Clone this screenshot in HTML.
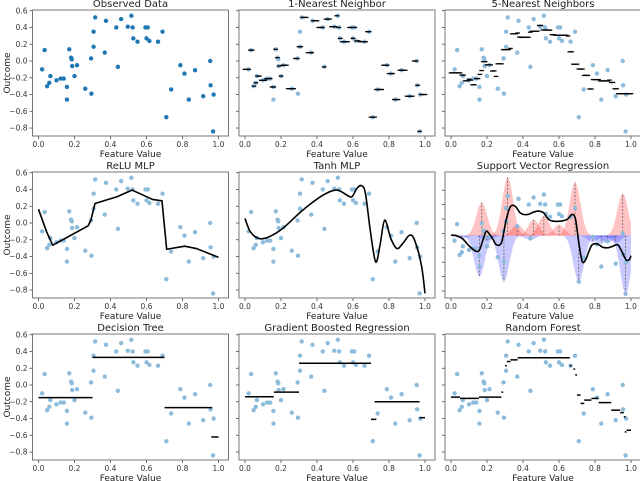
<!DOCTYPE html>
<html><head><meta charset="utf-8"><style>
html,body{margin:0;padding:0;background:#fff}
svg{display:block;font-family:"DejaVu Sans","Liberation Sans",sans-serif}
</style></head><body>
<svg id="c" width="640" height="481" viewBox="0 0 640 481" xmlns="http://www.w3.org/2000/svg"></svg>
<script>
const featureX = [0.02,0.034,0.048,0.06,0.066,0.10,0.123,0.14,0.158,0.158,0.171,0.181,0.185,0.187,0.20,0.214,0.26,0.292,0.294,0.306,0.306,0.315,0.368,0.375,0.432,0.441,0.459,0.496,0.516,0.523,0.527,0.55,0.594,0.60,0.607,0.616,0.664,0.689,0.71,0.737,0.788,0.811,0.835,0.87,0.915,0.954,0.956,0.97,0.973];
const outcomeY = [-0.10,0.13,-0.30,-0.26,-0.18,-0.23,-0.21,-0.21,-0.31,-0.46,0.14,0.04,0.02,-0.06,-0.18,-0.05,-0.33,0.03,-0.39,0.17,0.35,0.52,0.10,0.48,0.40,-0.07,0.50,0.41,0.54,0.40,0.27,0.23,0.40,0.27,0.40,0.24,0.23,0.35,-0.67,-0.34,-0.05,-0.15,-0.46,-0.11,-0.42,0.00,-0.29,-0.84,-0.40];
const xTicks = [0.0,0.2,0.4,0.6,0.8,1.0];
const yTicks = [0.6,0.4,0.2,0.0,-0.2,-0.4,-0.6,-0.8];
const panelTitles = ["Observed Data","1-Nearest Neighbor","5-Nearest Neighbors","ReLU MLP","Tanh MLP","Support Vector Regression","Decision Tree","Gradient Boosted Regression","Random Forest"];
const reluX = [0,0.045,0.079,0.276,0.291,0.314,0.436,0.52,0.633,0.686,0.712,0.812,0.878,1.0];
const reluY = [0.165,-0.105,-0.265,-0.033,0.034,0.233,0.313,0.393,0.281,0.265,-0.313,-0.277,-0.305,-0.41];
const tanhX = [0,0.03,0.077,0.133,0.209,0.321,0.434,0.509,0.566,0.594,0.622,0.647,0.669,0.697,0.726,0.75,0.776,0.81,0.844,0.876,0.914,0.942,0.98,1.0];
const tanhY = [0.054,-0.105,-0.185,-0.165,-0.066,0.153,0.333,0.393,0.333,0.313,0.413,0.445,0.353,-0.105,-0.464,-0.265,0.034,-0.185,-0.305,-0.245,-0.146,-0.205,-0.504,-0.84];
const svrX = [0,0.028,0.065,0.103,0.14,0.159,0.178,0.196,0.215,0.234,0.252,0.28,0.305,0.327,0.346,0.364,0.383,0.402,0.43,0.458,0.486,0.514,0.542,0.57,0.607,0.645,0.673,0.692,0.71,0.729,0.748,0.766,0.785,0.813,0.841,0.869,0.897,0.925,0.944,0.972,0.99,1.0];
const svrY = [-0.025,-0.03,-0.076,-0.18,-0.25,-0.225,-0.086,0.03,-0.016,-0.086,-0.156,-0.13,0.17,0.357,0.39,0.357,0.287,0.264,0.264,0.296,0.31,0.287,0.194,0.17,0.17,0.194,0.264,0.194,-0.13,-0.39,-0.365,-0.25,-0.156,-0.146,-0.19,-0.2,-0.18,-0.156,-0.225,-0.365,-0.365,-0.31];
const svrIntercept = -0.03;
const svX = [0.171,0.315,0.689,0.954,0.368,0.459,0.516,0.60,0.158,0.294,0.71,0.97,0.441,0.788,0.835,0.87,0.915,0.06,0.20];
const svPeak = [0.43,0.78,0.71,0.55,0.12,0.19,0.24,0.12,-0.60,-0.67,-0.67,-0.84,-0.09,-0.12,-0.14,-0.13,-0.13,-0.07,-0.10];
const treeStart = [0,0.30,0.70,0.96];
const treeEnd = [0.30,0.70,0.965,1.0];
const treeVal = [-0.15,0.33,-0.27,-0.62];
const gbrStart = [0,0.16,0.30,0.70,0.72,0.97];
const gbrEnd = [0.16,0.30,0.70,0.73,0.97,1.0];
const gbrVal = [-0.14,-0.085,0.26,-0.41,-0.20,-0.39];
const rfStart = [0,0.05,0.155,0.28,0.30,0.31,0.33,0.37,0.66,0.68,0.69,0.70,0.72,0.74,0.78,0.82,0.89,0.94,0.96,0.965,0.975];
const rfEnd = [0.05,0.155,0.28,0.29,0.31,0.33,0.37,0.66,0.67,0.69,0.70,0.72,0.74,0.78,0.82,0.89,0.94,0.96,0.97,0.975,1.0];
const rfVal = [-0.145,-0.16,-0.145,-0.085,0.23,0.28,0.30,0.325,0.23,0.19,0.12,-0.12,-0.22,-0.18,-0.16,-0.21,-0.30,-0.33,-0.38,-0.56,-0.54];

const NS="http://www.w3.org/2000/svg";
const svg=document.getElementById('c');
const colX0=[38.5,245,451], rowY0=[61,223,385], SX=180, SY=83.8;
function mk(tag,attrs,parent){const e=document.createElementNS(NS,tag);for(const k in attrs)e.setAttribute(k,attrs[k]);(parent||svg).appendChild(e);return e;}
function fmt(v){const s=Math.abs(v).toFixed(1);return (v<-1e-9?"\u2212":"")+s;}
function smooth(pts){let d="M"+pts[0][0]+","+pts[0][1];for(let i=0;i<pts.length-1;i++){const p0=pts[Math.max(0,i-1)],p1=pts[i],p2=pts[i+1],p3=pts[Math.min(pts.length-1,i+2)];const c1x=p1[0]+(p2[0]-p0[0])/6,c1y=p1[1]+(p2[1]-p0[1])/6,c2x=p2[0]-(p3[0]-p1[0])/6,c2y=p2[1]-(p3[1]-p1[1])/6;d+=" C"+c1x+","+c1y+" "+c2x+","+c2y+" "+p2[0]+","+p2[1];}return d;}

for(let i=0;i<9;i++){
  const r=Math.floor(i/3), c=i%3;
  const x0=colX0[c];
  const left=x0-6, top=rowY0[r]-51, w=196, h=126;
  const y0=(i===5)?top+61.4:rowY0[r];
  const sy=(i===5)?72:SY;
  const X=v=>x0+v*SX, Y=v=>y0-v*sy;
  const g=mk('g',{});
  
  
  const t=mk('text',{x:left+w/2,y:top-3,'text-anchor':'middle','font-size':'10',fill:'#222'},g);
  t.textContent=panelTitles[i];
  
  
  xTicks.forEach(v=>{
    mk('line',{x1:X(v),x2:X(v),y1:top+h,y2:top+h+3,stroke:'#444','stroke-width':0.8},g);
    const tl=mk('text',{x:X(v),y:top+h+11,'text-anchor':'middle','font-size':'7.5',fill:'#333'},g);
    tl.textContent=fmt(v);
    
    
  });
  const xl=mk('text',{x:left+w/2,y:top+h+21,'text-anchor':'middle','font-size':'9',fill:'#222'},g);
  xl.textContent='Feature Value';
  
  
  yTicks.forEach(v=>{
    if(Y(v)<top||Y(v)>top+h) return;
    mk('line',{x1:left-3,x2:left,y1:Y(v),y2:Y(v),stroke:'#444','stroke-width':0.8},g);
    if(c===0){
      const yl=mk('text',{x:left-5,y:Y(v)+2.7,'text-anchor':'end','font-size':'7.5',fill:'#333'},g);
      yl.textContent=fmt(v);
      
      
    }
  });
  if(c===0){
    const ot=mk('text',{x:0,y:0,'text-anchor':'middle','font-size':'9',fill:'#222',transform:'translate(10,'+(top+h/2)+') rotate(-90)'},g);
    ot.textContent='Outcome';
    
    
  }
  const clipId='clip'+i;
  const cp=mk('clipPath',{id:clipId},g);
  mk('rect',{x:left,y:top,width:w,height:h},cp);
  const plot=mk('g',{'clip-path':'url(#'+clipId+')'},g);
  
  

  if(i===5){
    const s=0.03;
    svX.forEach((cx,k)=>{
      const hgt=svPeak[k]-svrIntercept;
      let d="M"+X(Math.max(0,cx-4*s))+","+Y(svrIntercept);
      for(let u=Math.max(0,cx-4*s);u<=Math.min(1,cx+4*s)+1e-9;u+=0.002){d+=" L"+X(u)+","+Y(svrIntercept+hgt*Math.exp(-(u-cx)*(u-cx)/(2*s*s)));}
      d+=" L"+X(Math.min(1,cx+4*s))+","+Y(svrIntercept)+" Z";
      const p=mk('path',{d:d,fill:hgt>0?'rgba(255,40,40,0.28)':'rgba(40,40,255,0.25)',stroke:'none'},plot);
      
      
      const dl=mk('line',{x1:X(cx),x2:X(cx),y1:Y(svrIntercept),y2:Y(svPeak[k]),stroke:'#555','stroke-width':0.7,'stroke-dasharray':'2,1.5'},plot);
      
      
    });
  }
  featureX.forEach((fx,k)=>{
    const pt=mk('circle',{cx:X(fx),cy:Y(outcomeY[k]),r:2.2,fill:i===0?'#1f77b4':'#8dbbdc'},plot);
    
    
  });
  if(i===1||i===2){
    const k=i===1?1:5;
    for(let u=0;u<=1.0001;u+=0.01){
      const idx=featureX.map((fx,j)=>j).sort((a,b)=>Math.abs(featureX[a]-u)-Math.abs(featureX[b]-u)).slice(0,k);
      const pred=idx.reduce((s,j)=>s+outcomeY[j],0)/k;
      const m=mk('line',{x1:X(u)-2.3,x2:X(u)+2.3,y1:Y(pred),y2:Y(pred),stroke:'#000','stroke-width':1.3},plot);
      
      
    }
  }
  const curve=(xs,ys,name,sm)=>{
    const pts=xs.map((v,j)=>[X(v),Y(ys[j])]);
    const p=mk('path',{d:sm?smooth(pts):"M"+pts.map(q=>q.join(',')).join(' L'),fill:'none',stroke:'#000','stroke-width':1.6,'stroke-linejoin':'round'},plot);
    
    
  };
  if(i===3) curve(reluX,reluY,'relu-mlp-line',false);
  if(i===4) curve(tanhX,tanhY,'tanh-mlp-line',true);
  if(i===5) curve(svrX,svrY,'svr-line',true);
  const steps=(st,en,vals,name)=>{
    st.forEach((a,j)=>{
      const l=mk('line',{x1:X(a),x2:X(en[j]),y1:Y(vals[j]),y2:Y(vals[j]),stroke:'#000','stroke-width':1.5},plot);
      
      
    });
  };
  if(i===6) steps(treeStart,treeEnd,treeVal,'tree-step');
  if(i===7) steps(gbrStart,gbrEnd,gbrVal,'gbr-step');
  if(i===8) steps(rfStart,rfEnd,rfVal,'forest-step');
  const fr=mk('rect',{x:left,y:top,width:w,height:h,fill:'none',stroke:'#777','stroke-width':1},g);
  
  
}
</script>
</body></html>
